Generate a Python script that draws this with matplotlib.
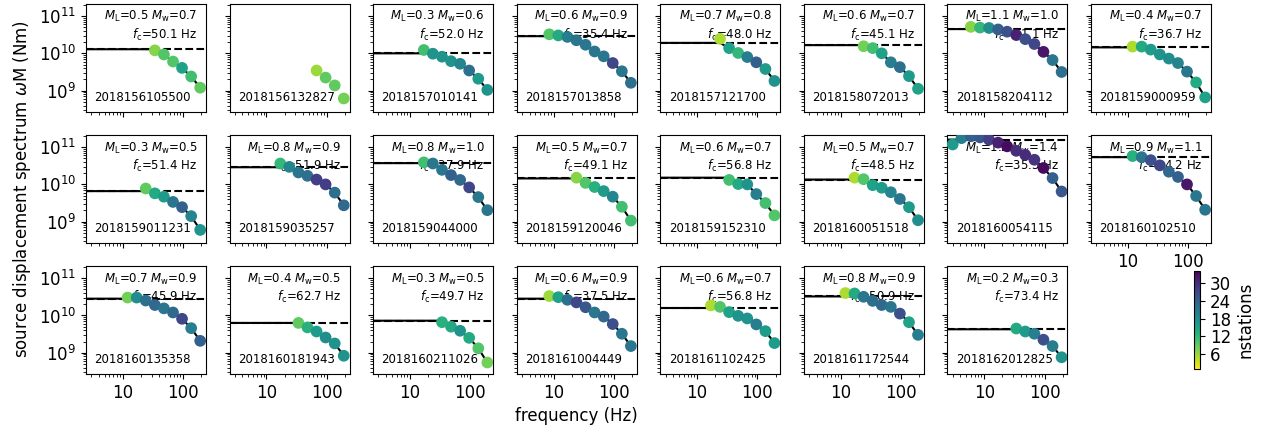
import numpy as np
import matplotlib.pyplot as plt
from matplotlib.colors import Normalize
from matplotlib.cm import ScalarMappable
from matplotlib.ticker import ScalarFormatter, NullFormatter

plt.rcParams.update({'font.size': 12, 'mathtext.default': 'it'})

# frequency bands (Hz); each event uses the last n of them
freq_bands = [3, 4.2, 6, 8.5, 12, 17, 24, 34, 48, 68, 96, 136, 192]

event_ids = ['2018156105500', '2018156132827', '2018157010141', '2018157013858',
             '2018157121700', '2018158072013', '2018158204112', '2018159000959',
             '2018159011231', '2018159035257', '2018159044000', '2018159120046',
             '2018159152310', '2018160051518', '2018160054115', '2018160102510',
             '2018160135358', '2018160181943', '2018160211026', '2018161004449',
             '2018161102425', '2018161172544', '2018162012825']
ml = [0.5, None, 0.3, 0.6, 0.7, 0.6, 1.1, 0.4,
      0.3, 0.8, 0.8, 0.5, 0.6, 0.5, 1.2, 0.9,
      0.7, 0.4, 0.3, 0.6, 0.6, 0.8, 0.2]
mw = [0.7, None, 0.6, 0.9, 0.8, 0.7, 1.0, 0.7,
      0.5, 0.9, 1.0, 0.7, 0.7, 0.7, 1.4, 1.1,
      0.9, 0.5, 0.5, 0.9, 0.7, 0.9, 0.3]
fc = [50.1, None, 52.0, 35.4, 48.0, 45.1, 41.1, 36.7,
      51.4, 51.9, 37.9, 49.1, 56.8, 48.5, 35.3, 34.2,
      45.9, 62.7, 49.7, 37.5, 56.8, 50.9, 73.4]
# log10 of the low-frequency plateau (Nm)
log_m0 = [10.11, None, 10.00, 10.46, 10.28, 10.22, 10.65, 10.16,
          9.82, 10.46, 10.57, 10.16, 10.18, 10.13, 11.20, 10.73,
          10.45, 9.80, 9.86, 10.45, 10.20, 10.51, 9.63]
# log10 of the band spectra (Nm)
log_spec = [
    [10.08, 9.97, 9.78, 9.61, 9.38, 9.08],
    [9.54, 9.35, 9.14, 8.79],
    [10.09, 9.99, 9.91, 9.79, 9.72, 9.54, 9.32, 9.02],
    [10.51, 10.48, 10.44, 10.35, 10.23, 10.05, 9.92, 9.74, 9.52, 9.21],
    [10.39, 10.14, 10.01, 9.90, 9.76, 9.58, 9.26],
    [10.19, 10.14, 10.00, 9.76, 9.63, 9.39, 9.05],
    [10.71, 10.69, 10.68, 10.64, 10.58, 10.49, 10.38, 10.25, 10.04, 9.82, 9.50],
    [10.18, 10.18, 10.10, 9.97, 9.86, 9.74, 9.51, 9.22, 8.82],
    [9.89, 9.76, 9.67, 9.53, 9.39, 9.15, 8.78],
    [10.56, 10.47, 10.32, 10.23, 10.13, 10.00, 9.78, 9.44],
    [10.59, 10.56, 10.39, 10.25, 10.12, 9.92, 9.66, 9.31],
    [10.18, 10.04, 9.93, 9.82, 9.67, 9.40, 9.03],
    [10.12, 10.01, 10.00, 9.74, 9.50, 9.17],
    [10.18, 10.14, 9.98, 9.91, 9.79, 9.61, 9.39, 9.04],
    [11.07, 11.24, 11.29, 11.26, 11.20, 11.12, 11.02, 10.90, 10.79, 10.66, 10.44, 10.17, 9.81],
    [10.76, 10.73, 10.65, 10.51, 10.34, 10.20, 10.00, 9.69, 9.32],
    [10.48, 10.48, 10.40, 10.28, 10.19, 10.08, 9.91, 9.66, 9.32],
    [9.80, 9.68, 9.57, 9.41, 9.25, 8.92],
    [9.82, 9.70, 9.59, 9.40, 9.12, 8.74],
    [10.52, 10.49, 10.42, 10.35, 10.22, 10.08, 9.97, 9.77, 9.51, 9.18],
    [10.27, 10.23, 10.09, 9.99, 9.92, 9.76, 9.58, 9.26],
    [10.60, 10.59, 10.50, 10.39, 10.28, 10.23, 10.05, 9.82, 9.48],
    [9.65, 9.57, 9.51, 9.35, 9.18, 8.88],
]
nstations = [
    [7, 10, 10, 15, 11, 9],
    [6, 9, 9, 8],
    [11, 17, 17, 17, 19, 22, 16, 17],
    [10, 14, 20, 21, 21, 21, 21, 27, 21, 22],
    [5, 15, 12, 20, 24, 16, 17],
    [8, 11, 15, 20, 22, 16, 15],
    [7, 12, 18, 24, 26, 31, 26, 27, 32, 21, 22],
    [5, 14, 16, 17, 18, 19, 21, 14, 15],
    [9, 14, 16, 21, 24, 19, 17],
    [12, 19, 21, 22, 28, 28, 22, 23],
    [11, 21, 21, 24, 23, 27, 21, 21],
    [7, 10, 13, 16, 19, 11, 11],
    [11, 14, 17, 20, 11, 10],
    [5, 10, 15, 16, 19, 21, 16, 18],
    [16, 20, 24, 25, 28, 31, 33, 30, 30, 29, 33, 24, 25],
    [13, 21, 26, 27, 23, 24, 32, 21, 21],
    [8, 18, 22, 23, 21, 23, 27, 20, 24],
    [9, 13, 16, 18, 17, 17],
    [13, 14, 17, 14, 10, 8],
    [6, 15, 22, 27, 25, 21, 23, 26, 21, 21],
    [5, 10, 15, 17, 17, 20, 16, 16],
    [5, 14, 21, 22, 23, 21, 26, 15, 20],
    [14, 16, 20, 26, 20, 17],
]

fig, axes = plt.subplots(3, 8, figsize=(12.73, 4.36), dpi=100, sharex=True, sharey=True)
fig.subplots_adjust(left=86/1273, right=1211/1273, top=1-4/436, bottom=1-374/436,
                    wspace=0.196, hspace=0.215)

norm = Normalize(vmin=1, vmax=34)
cmap = 'viridis_r'

ax0 = axes[0, 0]
ax0.set_xscale('log')
ax0.set_yscale('log')
ax0.set_xlim(2.45, 240)
ax0.set_ylim(2.7e8, 2.1e11)
ax0.xaxis.set_major_formatter(ScalarFormatter())
ax0.xaxis.set_minor_formatter(NullFormatter())

for i, ax in enumerate(axes.flat[:len(event_ids)]):
    vals = 10**np.array(log_spec[i])
    f = freq_bands[-len(vals):]
    if log_m0[i] is not None:
        m0 = 10**log_m0[i]
        xmin = ax.get_xlim()[0]
        # plateau up to the first band, then down through the band values
        line_f = np.r_[xmin, f]
        line_m = np.minimum(np.r_[m0, m0, vals[1:]], m0)
        ax.axhline(m0, color='k', ls='--', lw=1.5, zorder=1)
        ax.plot(line_f, line_m, 'k-', lw=1.5, zorder=2)
        ax.text(0.93, 0.95, r'$M_\mathrm{L}$=%.1f $M_\mathrm{w}$=%.1f' % (ml[i], mw[i]) + '\n'
                + r'$f_\mathrm{c}$=%.1f Hz' % fc[i],
                transform=ax.transAxes, ha='right', va='top', fontsize=8.5, zorder=0.5)
    ax.scatter(f, vals, c=nstations[i], cmap=cmap, norm=norm, s=55, zorder=3)
    ax.text(0.07, 0.07, event_ids[i], transform=ax.transAxes, ha='left', va='bottom',
            fontsize=8.5, zorder=0.5)

axes[2, 7].axis('off')
axes[1, 7].xaxis.set_tick_params(labelbottom=True)
axes[1, 0].set_ylabel(r'source displacement spectrum $\omega$M (Nm)')
axes[2, 3].set_xlabel('frequency (Hz)')

cax = fig.add_axes([1194/1273, 1-369/436, 6/1273, 98/436])
cb = fig.colorbar(ScalarMappable(norm=norm, cmap=cmap), cax=cax)
cb.set_ticks([6, 12, 18, 24, 30])
cb.set_label('nstations')

fig.savefig('out.png', dpi=100)
